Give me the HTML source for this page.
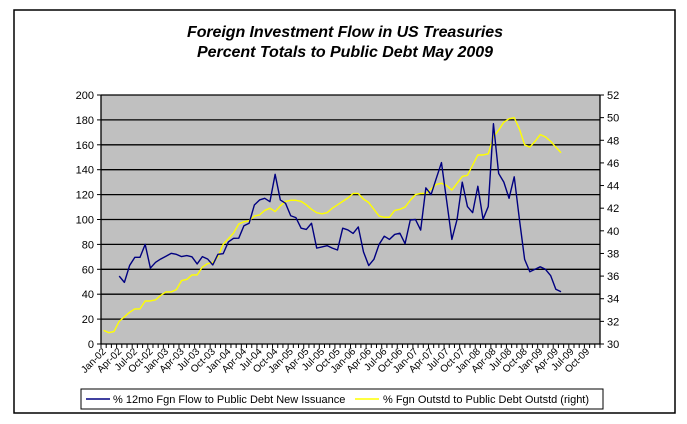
<!DOCTYPE html>
<html><head><meta charset="utf-8"><style>
body{margin:0;background:#fff;width:687px;height:424px;overflow:hidden}
svg{display:block;font-family:"Liberation Sans",Arial,sans-serif}
</style></head><body>
<svg id="chart" width="687" height="424">
<rect x="14" y="10" width="661" height="403" fill="#fff" stroke="#000" stroke-width="1.5"/>
<text x="345" y="37" text-anchor="middle" font-size="16" font-weight="bold" font-style="italic" textLength="316">Foreign Investment Flow in US Treasuries</text>
<text x="345" y="57" text-anchor="middle" font-size="16" font-weight="bold" font-style="italic" textLength="296">Percent Totals to Public Debt May 2009</text>
<rect x="101" y="95" width="499" height="249" fill="#c0c0c0"/>
<g id="grid"></g><g id="axes"></g><g id="series"></g>
<rect x="81" y="389" width="522" height="20" fill="#fff" stroke="#000" stroke-width="1"/>
<line x1="86" y1="399" x2="110" y2="399" stroke="#000080" stroke-width="1.5"/>
<text x="113" y="403" font-size="11">% 12mo Fgn Flow to Public Debt New Issuance</text>
<line x1="355" y1="399" x2="379" y2="399" stroke="#ffff00" stroke-width="1.5"/>
<text x="383" y="403" font-size="11">% Fgn Outstd to Public Debt Outstd (right)</text>
</svg>
<script>
const months = ["Jan","Apr","Jul","Oct"];
const years = ["02","03","04","05","06","07","08","09"];
const leftTicks = [0,20,40,60,80,100,120,140,160,180,200];
const rightTicks = [30,32,34,36,38,40,42,44,46,48,50,52];
const flowSeries = [null,null,null,54.6,49.5,63,69.6,69.6,80,61,65.6,68.3,70.5,72.8,72,70.2,71,70,64.3,70.2,68.3,63.5,72,72.5,82,84.9,85,95,97,111.6,115.7,117,114.3,136.3,115.7,113,103,101.5,93,92,97,77,78,79,77,75.5,93,91.6,88.8,94,74,63,68,80,86.6,84,88,89,80.6,99.6,100,91.5,125.4,120,133,145.7,115,84,100,130,110.4,105.5,126.7,100.2,110.4,176.9,137,130,117,134.3,100,68,58,60,62,60,55,44,42];
const outstdSeries = [31.2,31.0,31.1,32.0,32.4,32.8,33.1,33.1,33.8,33.8,33.9,34.3,34.6,34.6,34.8,35.6,35.7,36.1,36.1,36.8,37.1,37.2,37.7,38.8,39.3,39.8,40.6,40.8,40.9,41.3,41.4,41.8,42.0,41.7,42.2,42.6,42.7,42.7,42.6,42.3,41.9,41.6,41.5,41.6,42.0,42.3,42.6,42.9,43.3,43.3,42.8,42.5,41.9,41.3,41.2,41.2,41.8,41.9,42.1,42.7,43.2,43.3,43.3,43.7,44.1,44.2,44.0,43.6,44.2,44.8,44.9,45.8,46.7,46.7,46.8,48.3,48.9,49.6,49.9,50.0,49.0,47.6,47.4,47.9,48.5,48.3,47.9,47.4,46.9];
const NS="http://www.w3.org/2000/svg";
const L=101,R=600,T=95,B=344,NCAT=96;
const cw=(R-L)/NCAT;
const xAt=i=>L+cw*(i+0.5);
const yL=v=>B-(v-0)/(200-0)*(B-T);
const yR=v=>B-(v-30)/(52-30)*(B-T);
function mk(tag,attrs,parent){const e=document.createElementNS(NS,tag);for(const k in attrs)e.setAttribute(k,attrs[k]);parent.appendChild(e);return e;}
const grid=document.getElementById('grid'),axes=document.getElementById('axes'),ser=document.getElementById('series');
leftTicks.forEach(v=>{
  const y=yL(v);
  if(v>0){const g=mk('line',{x1:L,x2:R,y1:y,y2:y,stroke:'#000','stroke-width':1.3},grid);
  
  }
  mk('line',{x1:L-4,x2:L,y1:y,y2:y,stroke:'#000'},axes);
  const t=mk('text',{x:L-7,y:y+4,'text-anchor':'end','font-size':11},axes);t.textContent=v;
  
  
});
rightTicks.forEach(v=>{
  const y=yR(v);
  mk('line',{x1:R,x2:R+4,y1:y,y2:y,stroke:'#000'},axes);
  const t=mk('text',{x:R+7,y:y+4,'font-size':11},axes);t.textContent=v;
  
  
});
const la=mk('line',{x1:L,x2:L,y1:T,y2:B,stroke:'#000','stroke-width':1.3},axes);


const ra=mk('line',{x1:R,x2:R,y1:T,y2:B,stroke:'#000','stroke-width':1.3},axes);


const xa=mk('line',{x1:L,x2:R,y1:B,y2:B,stroke:'#000','stroke-width':1.3},axes);


for(let i=0;i<=NCAT;i++){const x=L+cw*i;mk('line',{x1:x,x2:x,y1:B,y2:B+4,stroke:'#000'},axes);}
let k=0;
years.forEach(yr=>months.forEach(m=>{
  const x=xAt(k*3)+3,y=B+8;
  const t=mk('text',{x:x,y:y,'text-anchor':'end','font-size':10,transform:`rotate(-45 ${x} ${y})`},axes);
  t.textContent=m+'-'+yr;
  
  
  k++;
}));
function path(arr,yf,color,name){
  let d='';arr.forEach((v,i)=>{if(v==null)return;d+=(d?'L':'M')+xAt(i).toFixed(2)+','+yf(v).toFixed(2);});
  const p=mk('path',{d:d,fill:'none',stroke:color,'stroke-width':1.4,'stroke-linejoin':'round'},ser);
  
  
}
path(outstdSeries,yR,'#ffff00','line-fgn-outstanding');
path(flowSeries,yL,'#000080','line-fgn-flow');
</script>
</body></html>
